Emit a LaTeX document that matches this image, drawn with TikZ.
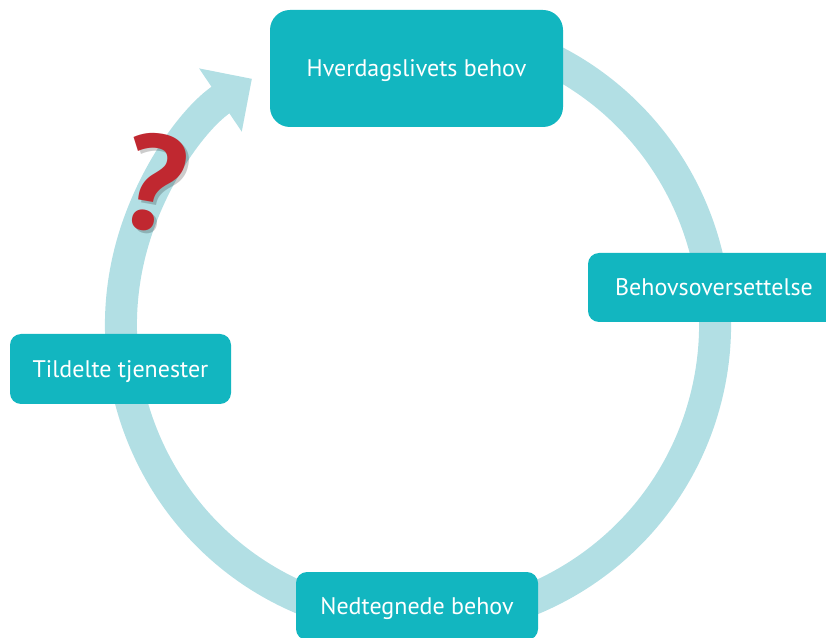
\documentclass[tikz,border=0pt]{standalone}
\usepackage{fontspec}
\setmainfont{PT Sans}
\usetikzlibrary{arrows.meta}
\definecolor{boxteal}{RGB}{18,182,192}
\definecolor{ringblue}{RGB}{178,223,228}
\definecolor{qred}{RGB}{192,40,48}

\begin{document}
\begin{tikzpicture}[x=1pt,y=1pt,
    stagebox/.style={fill=boxteal, rounded corners=11pt, inner sep=0pt,
      text=white, font=\fontsize{24}{28}\selectfont,
      text height=17pt, text depth=0pt},
    qmark/.style={font=\fontsize{136}{140}\selectfont\bfseries, rotate=-10, inner sep=0pt}]
  \useasboundingbox (0,0) rectangle (826,637);
  \clip (0,0) rectangle (826,637);

  % cycle ring with arrow head
  \draw[ringblue, line width=32pt, -{Triangle[length=38pt,width=74pt]}]
    (418,312) ++(75:297) arc[start angle=75, end angle=-236, radius=297];

  % stages
  \node[stagebox, rounded corners=20pt, minimum width=293pt, minimum height=117pt]
    (needs) at (416.5,568.5) {Hverdagslivets behov};
  \node[stagebox, minimum width=252pt, minimum height=69pt]
    (translate) at (714,349.5) {Behovsoversettelse};
  \node[stagebox, minimum width=221pt, minimum height=70pt]
    (granted) at (120.5,268) {Tildelte tjenester};
  \node[stagebox, minimum width=242pt, minimum height=68pt]
    (recorded) at (417,31) {Nedtegnede behov};

  % question mark
  \node[qmark, text=black, opacity=0.2] (qshadow) at (157,451) {?};
  \node[qmark, text=qred] (question) at (154,454) {?};
\end{tikzpicture}
\end{document}
